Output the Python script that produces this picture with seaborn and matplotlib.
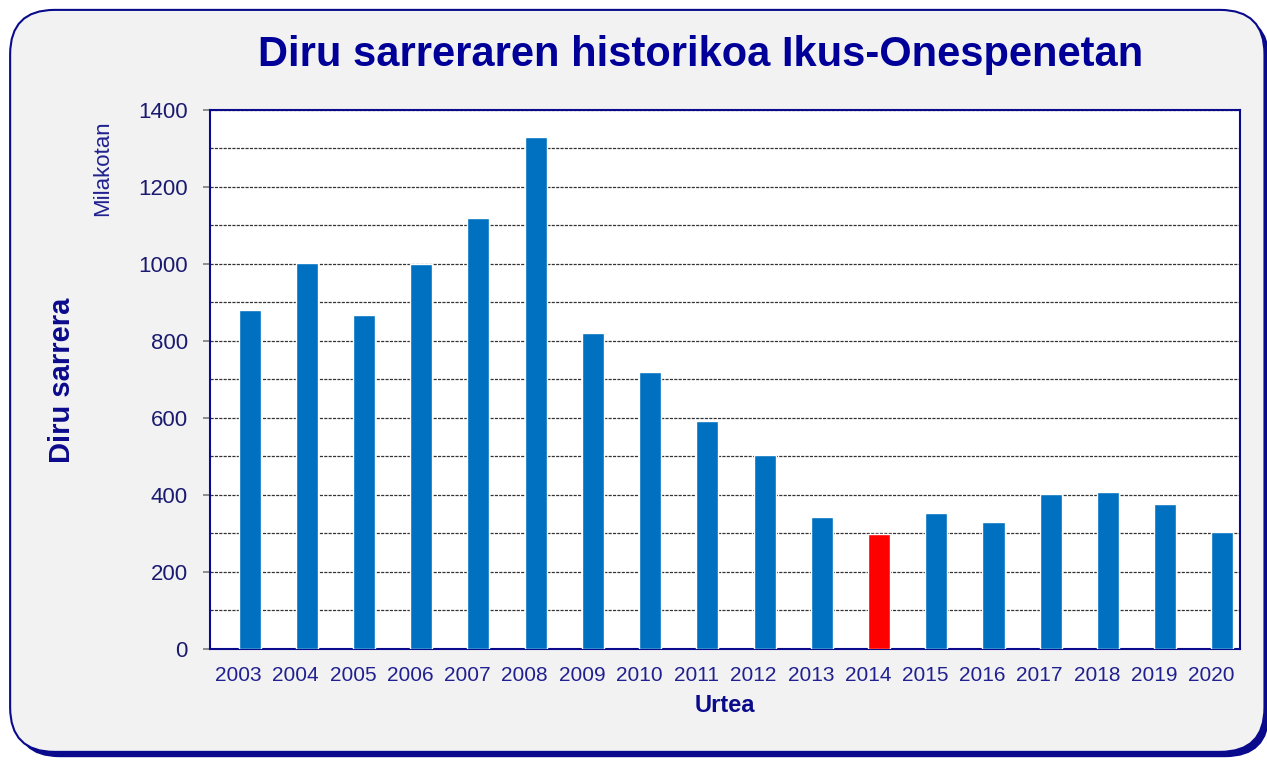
import matplotlib
matplotlib.use("Agg")
import matplotlib.pyplot as plt
from matplotlib.patches import FancyBboxPatch
from matplotlib.ticker import MultipleLocator
import pandas as pd
import seaborn as sns

YEARS = ["2003", "2004", "2005", "2006", "2007", "2008", "2009", "2010", "2011",
         "2012", "2013", "2014", "2015", "2016", "2017", "2018", "2019", "2020"]
INCOME = [880, 1003, 868, 1000, 1119, 1330, 821, 719, 592,
          504, 343, 299, 353, 330, 403, 408, 377, 304]
HIGHLIGHT_YEAR = "2014"

TITLE = "Diru sarreraren historikoa Ikus-Onespenetan"
Y_LABEL = "Diru sarrera"
Y_UNIT = "Milakotan"
X_LABEL = "Urtea"

NAVY = "#0A0A8C"
BLUE = "#0070C0"
RED = "#FF0000"

sns.set_theme(style="white")
plt.rcParams["font.family"] = ["Liberation Sans", "DejaVu Sans"]

# two series: an empty one on the left, the real one right of the tick
df = pd.DataFrame({
    "year": YEARS * 2,
    "value": [0] * len(YEARS) + INCOME,
    "serie": ["hutsa"] * len(YEARS) + ["Diru sarrera"] * len(YEARS),
})

fig = plt.figure(figsize=(12.67, 7.61), dpi=100)
fig.patch.set_facecolor("white")

# rounded panel with a dark shadow at the bottom/right
shadow = FancyBboxPatch((0.012, 0.005), 0.99, 0.975, boxstyle="round,pad=0,rounding_size=0.035",
                        transform=fig.transFigure, facecolor=NAVY, edgecolor="none",
                        mutation_aspect=1267 / 761, zorder=-2)
panel = FancyBboxPatch((0.008, 0.012), 0.99, 0.975, boxstyle="round,pad=0,rounding_size=0.035",
                       transform=fig.transFigure, facecolor="#F2F2F2", edgecolor=NAVY,
                       linewidth=1.5, mutation_aspect=1267 / 761, zorder=-1)
fig.patches.extend([shadow, panel])

ax = fig.add_axes([0.1657, 0.1472, 0.8130, 0.7083])
sns.barplot(data=df, x="year", y="value", hue="serie", hue_order=["hutsa", "Diru sarrera"],
            palette={"hutsa": BLUE, "Diru sarrera": BLUE}, width=0.77, legend=False,
            saturation=1, ax=ax, zorder=3)
for bar in ax.containers[0]:
    bar.set_visible(False)
ax.containers[1][YEARS.index(HIGHLIGHT_YEAR)].set_facecolor(RED)

ax.set_facecolor("white")
ax.set_ylim(0, 1400)
ax.set_xlim(-0.5, len(YEARS) - 0.5)
ax.yaxis.set_major_locator(MultipleLocator(200))
ax.yaxis.set_minor_locator(MultipleLocator(100))
ax.grid(axis="y", which="both", linestyle=(0, (2.5, 1)), color="#333333", linewidth=0.9, zorder=0)
ax.set_axisbelow(True)
for side in ["left", "right", "top", "bottom"]:
    ax.spines[side].set_visible(True)
    ax.spines[side].set_color(NAVY)
    ax.spines[side].set_linewidth(1.5)
ax.tick_params(axis="y", which="major", left=True, length=5, color="#808080",
               labelsize=16, labelcolor="#1A1A70", pad=11)
ax.tick_params(axis="y", which="minor", left=False)
ax.tick_params(axis="x", bottom=False, labelsize=15, labelcolor="#202090", pad=6)

ax.set_xlabel(X_LABEL, fontsize=17, fontweight="bold", color=NAVY, labelpad=7)
ax.set_ylabel("")
fig.text(0.049, 0.5, Y_LABEL, rotation=90, fontsize=21, fontweight="bold",
         color=NAVY, ha="center", va="center")
fig.text(0.081, 0.779, Y_UNIT, rotation=90, fontsize=16, color="#202090",
         ha="center", va="center")
fig.text(0.553, 0.928, TITLE, fontsize=30, fontweight="bold", color="#000099",
         ha="center", va="center")

fig.savefig("out.png", dpi=100)
